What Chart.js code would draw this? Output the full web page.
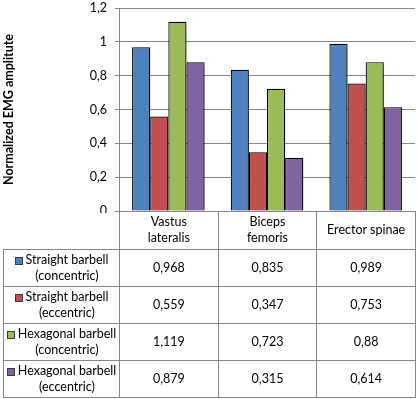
<!DOCTYPE html>
<html>
<head>
<meta charset="utf-8">
<script src="https://cdn.jsdelivr.net/npm/chart.js@4/dist/chart.umd.min.js"></script>
<style>
    body { margin: 0; background: #fff; font-family: Lato, "Open Sans", sans-serif; }
    #wrap { position: relative; width: 418px; height: 399px; }
    #chart { position: absolute; left: 0; top: 0; }
    #dataTable { position: absolute; border-collapse: collapse; font-size: 12.5px; color: #000; table-layout: fixed; }
    #dataTable td { border: 1px solid #878787; text-align: center; vertical-align: middle; padding: 0; line-height: 16px; }
    #dataTable td.blank { border: none; border-right: 1px solid #878787; }
    .leg { display: flex; align-items: flex-start; justify-content: center; }
    .key { width: 6px; height: 6px; border: 1px solid #3a3a3a; margin: 5px 3px 0 0; flex: none; }
</style>
</head>
<body>
<div id="wrap">
    <canvas id="chart" width="418" height="213"></canvas>
    <table id="dataTable"></table>
</div>
<script>
const categories = [["Vastus", "lateralis"], ["Biceps", "femoris"], ["Erector spinae"]];
const seriesNames = [
    ["Straight barbell", "(concentric)"],
    ["Straight barbell", "(eccentric)"],
    ["Hexagonal barbell", "(concentric)"],
    ["Hexagonal barbell", "(eccentric)"]
];
const straightConcentric = [0.968, 0.835, 0.989];
const straightEccentric = [0.559, 0.347, 0.753];
const hexConcentric = [1.119, 0.723, 0.88];
const hexEccentric = [0.879, 0.315, 0.614];
const yTicks = [0, 0.2, 0.4, 0.6, 0.8, 1, 1.2];
const colors = ["#4f81bd", "#c0504d", "#9bbb59", "#8064a2"];

const seriesValues = [straightConcentric, straightEccentric, hexConcentric, hexEccentric];

function comma(v) {
    return String(+v.toFixed(3)).replace(".", ",");
}

// sombra suave detrás de las barras, como en Excel
const barShadow = {
    id: "barShadow",
    beforeDatasetsDraw(chart) {
        const ctx = chart.ctx;
        ctx.save();
        ctx.shadowColor = "rgba(0,0,0,0.35)";
        ctx.shadowBlur = 4;
        ctx.shadowOffsetX = 3;
        ctx.shadowOffsetY = 2;
    },
    afterDatasetsDraw(chart) {
        chart.ctx.restore();
    }
};

const chart = new Chart(document.getElementById("chart"), {
    type: "bar",
    data: {
        labels: categories.map(c => c.join(" ")),
        datasets: seriesValues.map((vals, i) => ({
            label: seriesNames[i].join(" "),
            data: vals,
            backgroundColor: colors[i],
            borderColor: "#000",
            borderWidth: 1.2,
            categoryPercentage: 0.735,
            barPercentage: 1
        }))
    },
    options: {
        responsive: false,
        animation: false,
        layout: { padding: { top: 8, right: 3, bottom: 2, left: 0 } },
        plugins: { legend: { display: false }, tooltip: { enabled: false } },
        scales: {
            x: { display: false },
            y: {
                min: 0,
                max: 1.2,
                afterBuildTicks: axis => { axis.ticks = yTicks.map(v => ({ value: v })); },
                afterFit: axis => {
                    axis.width = 119;
                    axis.paddingTop = 0;
                    axis.paddingBottom = 0;
                },
                border: { color: "#878787", width: 1 },
                grid: { color: "#878787", lineWidth: 1, tickLength: 4 },
                ticks: {
                    color: "#000",
                    padding: 8,
                    font: { family: "Lato", size: 12.5 },
                    callback: v => comma(v)
                },
                title: {
                    display: true,
                    text: "Normalized EMG amplitute",
                    color: "#000",
                    font: { family: "Lato", size: 12.5, weight: "bold" },
                    padding: { top: 1, bottom: 0 }
                }
            }
        }
    },
    plugins: [barShadow]
});

function buildTable() {
    const area = chart.chartArea;
    const colW = (area.right - area.left) / categories.length;
    const table = document.getElementById("dataTable");
    table.style.left = "3px";
    table.style.top = Math.round(area.bottom) + "px";

    let html = "<colgroup><col style='width:" + (area.left - 3) + "px'>";
    categories.forEach(() => { html += "<col style='width:" + colW + "px'>"; });
    html += "</colgroup>";

    html += "<tr style='height:38px'><td class='blank'></td>";
    categories.forEach(c => { html += "<td style='border-top:none'>" + c.join("<br>") + "</td>"; });
    html += "</tr>";

    seriesNames.forEach((name, i) => {
        html += "<tr style='height:37px'><td><div class='leg'><span class='key' style='background:" + colors[i] + "'></span><div>" +
            name.join("<br>") + "</div></div></td>";
        seriesValues[i].forEach(v => { html += "<td>" + comma(v) + "</td>"; });
        html += "</tr>";
    });
    table.innerHTML = html;
}

buildTable();
</script>
</body>
</html>
